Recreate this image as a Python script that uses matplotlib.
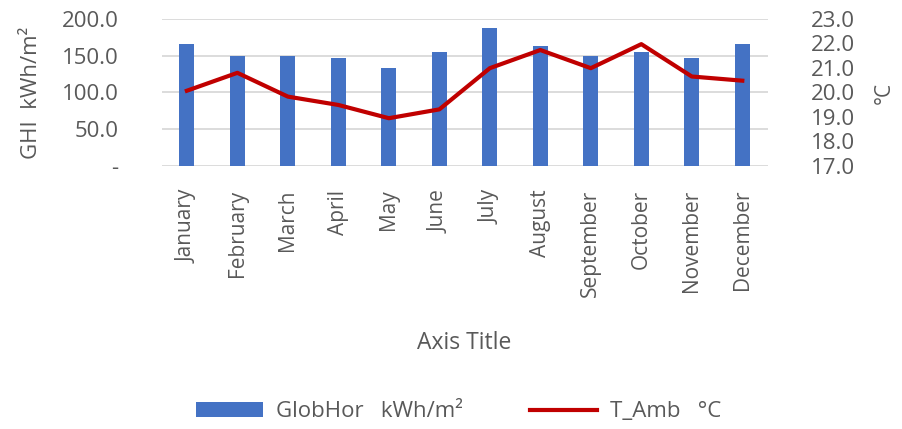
import matplotlib.pyplot as plt
from matplotlib.ticker import FuncFormatter

months = ['January', 'February', 'March', 'April', 'May', 'June',
          'July', 'August', 'September', 'October', 'November', 'December']
glob_hor = [166, 150, 150, 147.5, 133, 155, 188, 163, 150, 155.5, 147, 166]
t_amb = [20.07, 20.8, 19.83, 19.49, 18.95, 19.31, 20.99, 21.73, 20.99, 21.97, 20.65, 20.48]

grey = '#595959'
plt.rcParams['font.family'] = ['Open Sans', 'DejaVu Sans']

fig = plt.figure(figsize=(9.03, 4.29), dpi=100)
ax = fig.add_axes([0.179, 0.613, 0.671, 0.343])
x = range(len(months))

bars = ax.bar(x, glob_hor, width=0.3, color='#4472C4', zorder=2)
ax.set_ylim(0, 200)
ax.set_yticks([0, 50, 100, 150, 200])
ax.yaxis.set_major_formatter(FuncFormatter(lambda v, p: '-' if v == 0 else f'{v:.1f}'))
ax.set_xlim(-0.5, 11.5)
ax.set_xticks(list(x))
ax.set_xticklabels(months, rotation=90)
ax.grid(axis='y', color='#D9D9D9', linewidth=1.3, zorder=0)
for s in ax.spines.values():
    s.set_visible(False)
ax.tick_params(length=0, colors=grey)
ax.tick_params(axis='y', labelsize=16, pad=31)
ax.tick_params(axis='x', labelsize=15, pad=17)
ax.set_ylabel('GHI  kWh/m²', color=grey, fontsize=16, va='center')
ax.yaxis.set_label_coords(-0.215, 0.5)
ax.set_xlabel('Axis Title', color=grey, fontsize=16.5, va='center')
ax.xaxis.set_label_coords(0.5, -1.204)

ax2 = ax.twinx()
line, = ax2.plot(x, t_amb, color='#C00000', linewidth=3, zorder=3)
ax2.set_ylim(17, 23)
ax2.set_yticks([17, 18, 19, 20, 21, 22, 23])
ax2.yaxis.set_major_formatter(FuncFormatter(lambda v, p: f'{v:.1f}'))
for s in ax2.spines.values():
    s.set_visible(False)
ax2.tick_params(length=0, colors=grey, labelsize=16, pad=31)
ax2.set_ylabel('°C', color=grey, fontsize=15, rotation=90, va='center')
ax2.yaxis.set_label_coords(1.193, 0.5)

fig.legend([bars, line], ['GlobHor   kWh/m²', 'T_Amb   °C'],
           loc='center', bbox_to_anchor=(0.508, 0.04), ncol=2, frameon=False,
           fontsize=16, labelcolor=grey, handlelength=3.0, handleheight=0.7,
           handletextpad=0.6, columnspacing=3.0)

fig.savefig('out.png', dpi=100)
